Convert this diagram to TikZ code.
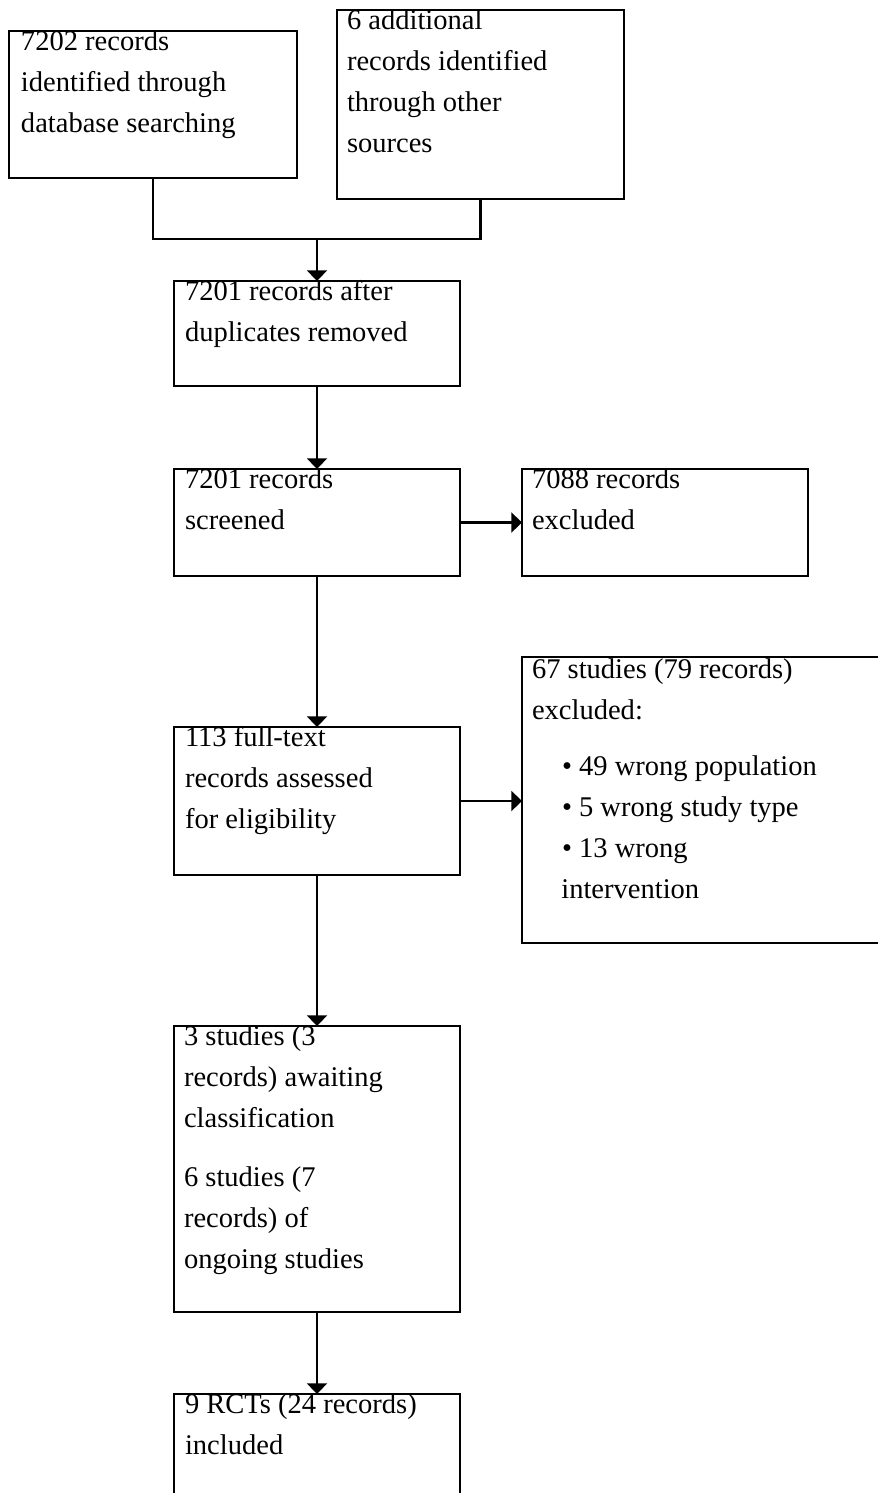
\documentclass[tikz,border=0pt]{standalone}
\usepackage{fontspec}
\setmainfont{Liberation Serif}
\usetikzlibrary{arrows.meta}
\newcommand\fs{\rule{0pt}{15pt}}
\begin{document}
\begin{tikzpicture}[x=0.75pt,y=-0.75pt,
  box/.style={draw, line width=1.6pt, rectangle, inner sep=0, outer sep=0, anchor=north west},
  txt/.style={anchor=north west, inner sep=0, outer sep=0, align=left, font=\fontsize{21.4pt}{30.8pt}\selectfont},
  link/.style={line width=1.6pt},
  arr/.style={line width=1.6pt, -{Triangle[width=15pt,length=8pt]}}]
\useasboundingbox (0,0) rectangle (878,1493);
\clip (0,0) rectangle (878,1493);
% boxes
\node[box, minimum width=216pt, minimum height=110.25pt] (b1) at (9,31) {};
\node[box, minimum width=215.25pt, minimum height=141.75pt] (b2) at (337,10) {};
\node[box, minimum width=214.5pt, minimum height=78.75pt] (b3) at (174,281) {};
\node[box, minimum width=214.5pt, minimum height=80.25pt] (b4) at (174,469) {};
\node[box, minimum width=214.5pt, minimum height=80.25pt] (b5) at (522,469) {};
\node[box, minimum width=214.5pt, minimum height=111pt] (b6) at (174,727) {};
\node[box, minimum width=283.5pt, minimum height=214.5pt] (b7) at (522,657) {};
\node[box, minimum width=214.5pt, minimum height=214.5pt] (b8) at (174,1026) {};
\node[box, minimum width=214.5pt, minimum height=94.5pt] (b9) at (174,1394) {};
% texts
\node[txt] (t1) at (21,30) {\fs 7202 records\\identified through\\database searching};
\node[txt] (t2) at (347,9) {\fs 6 additional\\records identified\\through other\\sources};
\node[txt] (t3) at (185,280) {\fs 7201 records after\\duplicates removed};
\node[txt] (t4) at (185,468) {\fs 7201 records\\screened};
\node[txt] (t5) at (532,468) {\fs 7088 records\\excluded};
\node[txt] (t6) at (185,726) {\fs 113 full-text\\records assessed\\for eligibility};
\node[txt] (t7) at (532,658) {\fs 67 studies (79 records)\\excluded:\\[11.5pt]
  \hspace*{22.5pt}• 49 wrong population\\
  \hspace*{22.5pt}• 5 wrong study type\\
  \hspace*{22.5pt}• 13 wrong\\
  \hspace*{22pt}intervention};
\node[txt] (t8) at (184,1025) {\fs 3 studies (3\\records) awaiting\\classification\\[13.5pt]6 studies (7\\records) of\\ongoing studies};
\node[txt] (t9) at (185,1393) {\fs 9 RCTs (24 records)\\included};
% connectors
\coordinate (m) at (b3.north |- 0,239);
\draw[link] (b1.south) |- (m) -| (b2.south);
\draw[arr] (m) -- (b3.north);
\draw[arr] (b3.south) -- (b4.north);
\draw[arr] (b4.east) -- (b4.east -| b5.west);
\draw[arr] (b4.south) -- (b6.north);
\draw[arr] (b6.east) -- (b6.east -| b7.west);
\draw[arr] (b6.south) -- (b8.north);
\draw[arr] (b8.south) -- (b9.north);
\end{tikzpicture}
\end{document}
